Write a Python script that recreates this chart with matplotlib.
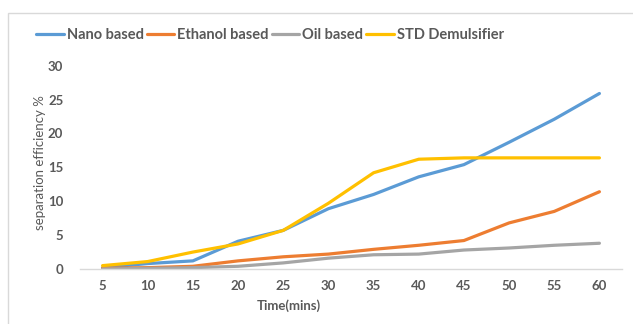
import matplotlib
matplotlib.use("Agg")
import matplotlib.pyplot as plt
from matplotlib.patches import Rectangle

times = [5, 10, 15, 20, 25, 30, 35, 40, 45, 50, 55, 60]
nano = [0.2, 0.8, 1.2, 4.1, 5.7, 8.9, 11.0, 13.6, 15.4, 18.7, 22.1, 25.9]
ethanol = [0.1, 0.2, 0.4, 1.2, 1.8, 2.2, 2.9, 3.5, 4.2, 6.8, 8.5, 11.4]
oil = [0.0, 0.1, 0.2, 0.4, 0.9, 1.6, 2.1, 2.2, 2.8, 3.1, 3.5, 3.8]
std = [0.5, 1.1, 2.5, 3.7, 5.7, 9.7, 14.2, 16.2, 16.4, 16.4, 16.4, 16.4]
series_names = ["Nano based", "Ethanol based", "Oil based", "STD Demulsifier"]
colors = ["#5B9BD5", "#ED7D31", "#A5A5A5", "#FFC000"]

plt.rcParams['font.family'] = ['Lato', 'DejaVu Sans']
txt = "#595959"

fig = plt.figure(figsize=(6.33, 3.24), dpi=100)
fig.patches.append(Rectangle((8/633, -0.1), 1.0, 1 - 13/324 + 0.1, transform=fig.transFigure,
                             fill=False, edgecolor="#D9D9D9", lw=1.0))
ax = fig.add_axes([80/633, 1 - 269/324, (622 - 80)/633, (269 - 65.7)/324])

xs = list(range(len(times)))
for vals, name, c in zip([nano, ethanol, oil, std], series_names, colors):
    ax.plot(xs, vals, color=c, lw=2.3, label=name, solid_capstyle='round')

ax.set_xlim(-0.5, len(times) - 0.5)
ax.set_ylim(0, 30)
ax.set_yticks([0, 5, 10, 15, 20, 25, 30])
ax.set_xticks(xs)
ax.set_xticklabels([str(t) for t in times])
for s in ["top", "right", "left"]:
    ax.spines[s].set_visible(False)
ax.spines["bottom"].set_color("#D9D9D9")
ax.spines["bottom"].set_linewidth(1.0)
ax.tick_params(axis='both', length=0, colors=txt, labelsize=9.5)
ax.tick_params(axis='x', pad=8)
ax.tick_params(axis='y', pad=12)
for lab in ax.get_xticklabels() + ax.get_yticklabels():
    lab.set_fontweight('bold')

fig.text(40/633, 1 - 163/324, "separation efficiency %", rotation=90, ha='center', va='center',
         color=txt, fontsize=9.5)
fig.text(289/633, 1 - 306/324, "Time(mins)", ha='center', va='center', color=txt,
         fontsize=9.5, fontweight='bold')

leg = fig.legend(loc='center', bbox_to_anchor=(270/633, 1 - 35/324), ncol=4, frameon=False,
                 handlelength=1.9, handletextpad=0.2, columnspacing=0.2,
                 prop={'weight': 'bold', 'size': 10.5})
for t in leg.get_texts():
    t.set_color(txt)

fig.savefig("out.png", dpi=100)
